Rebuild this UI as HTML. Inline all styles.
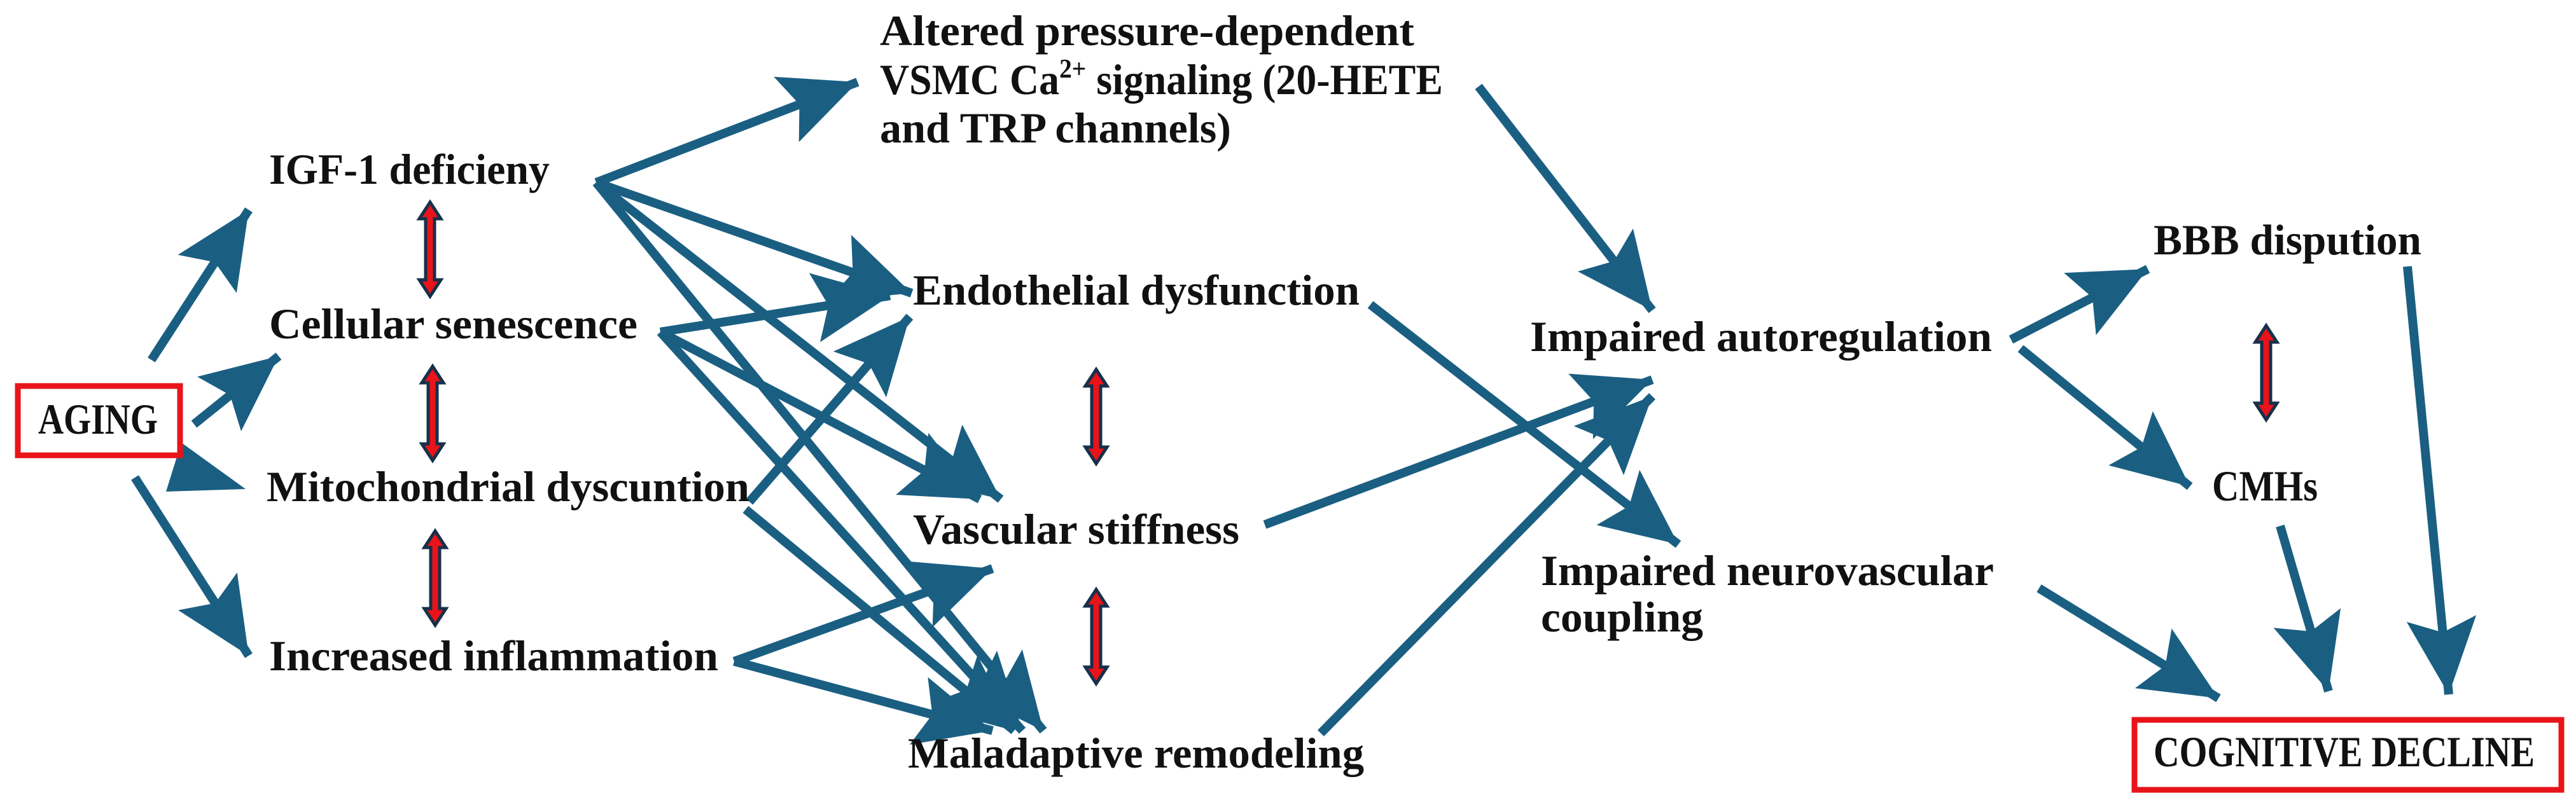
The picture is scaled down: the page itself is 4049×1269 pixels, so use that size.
<!DOCTYPE html>
<html><head><meta charset="utf-8"><style>
html,body{margin:0;padding:0;background:#fff}
svg{display:block}
text{font-family:"Liberation Serif",serif;font-weight:bold;fill:#111;font-size:68px}
</style></head><body>
<svg width="4049" height="1269" viewBox="0 0 4049 1269" xmlns="http://www.w3.org/2000/svg">
<defs>
<marker id="a" markerUnits="userSpaceOnUse" markerWidth="130" markerHeight="120" refX="120" refY="55" orient="auto">
<path d="M0,0 L120,55 L0,110 L22,55 Z" fill="#1a5f82"/>
</marker>
<g id="dbl">
<path d="M0,-74 L17,-48 L7,-48 L7,48 L17,48 L0,74 L-17,48 L-7,48 L-7,-48 L-17,-48 Z" fill="#e8141a" stroke="#17304a" stroke-width="5"/>
</g>
</defs>
<g stroke="#1a5f82" stroke-width="14" fill="none" marker-end="url(#a)">
<line x1="238" y1="566" x2="391" y2="330"/>
<line x1="305" y1="667" x2="438" y2="560"/>
<line x1="212" y1="751" x2="391" y2="1031"/>
<line x1="937" y1="287" x2="1348" y2="129"/>
<line x1="937" y1="287" x2="1433" y2="461"/>
<line x1="937" y1="287" x2="1573" y2="785"/>
<line x1="937" y1="287" x2="1640" y2="1149"/>
<line x1="1038" y1="522" x2="1399" y2="465"/>
<line x1="1038" y1="522" x2="1540" y2="785"/>
<line x1="1038" y1="522" x2="1607" y2="1149"/>
<line x1="1178" y1="789" x2="1430" y2="498"/>
<line x1="1172" y1="801" x2="1594" y2="1149"/>
<line x1="1154" y1="1040" x2="1560" y2="894"/>
<line x1="1154" y1="1040" x2="1560" y2="1149"/>
<line x1="1988" y1="825" x2="2597" y2="597"/>
<line x1="2076" y1="1153" x2="2597" y2="623"/>
<line x1="2324" y1="136" x2="2597" y2="488"/>
<line x1="2154" y1="479" x2="2638" y2="856"/>
<line x1="3161" y1="534" x2="3376" y2="423"/>
<line x1="3176" y1="548" x2="3442" y2="765"/>
<line x1="3205" y1="925" x2="3487" y2="1098"/>
<line x1="3584" y1="827" x2="3660" y2="1087"/>
<line x1="3784" y1="419" x2="3849" y2="1092"/>
</g>
<polygon points="285,696 386,769 261,773" fill="#1a5f82"/>
<use href="#dbl" x="676" y="392"/>
<use href="#dbl" x="680" y="650"/>
<use href="#dbl" x="684" y="909"/>
<use href="#dbl" x="1723" y="655"/>
<use href="#dbl" x="1723" y="1001"/>
<use href="#dbl" x="3562" y="586"/>
<rect x="28" y="607" width="255" height="109" fill="none" stroke="#e8141a" stroke-width="9"/>
<rect x="3355" y="1132" width="671" height="110" fill="none" stroke="#e8141a" stroke-width="9"/>
<text x="60" y="682" textLength="188" lengthAdjust="spacingAndGlyphs">AGING</text>
<text x="423" y="289" textLength="441" lengthAdjust="spacingAndGlyphs">IGF-1 deficieny</text>
<text x="423" y="532" textLength="579" lengthAdjust="spacingAndGlyphs">Cellular senescence</text>
<text x="419" y="788" textLength="759" lengthAdjust="spacingAndGlyphs">Mitochondrial dyscuntion</text>
<text x="423" y="1054" textLength="706" lengthAdjust="spacingAndGlyphs">Increased inflammation</text>
<text x="1383" y="71" textLength="840" lengthAdjust="spacingAndGlyphs">Altered pressure-dependent</text>
<text x="1383" y="148" textLength="885" lengthAdjust="spacingAndGlyphs">VSMC Ca<tspan dy="-26" font-size="42">2+</tspan><tspan dy="26"> signaling (20-HETE</tspan></text>
<text x="1383" y="224" textLength="552" lengthAdjust="spacingAndGlyphs">and TRP channels)</text>
<text x="1435" y="479" textLength="702" lengthAdjust="spacingAndGlyphs">Endothelial dysfunction</text>
<text x="1435" y="855" textLength="513" lengthAdjust="spacingAndGlyphs">Vascular stiffness</text>
<text x="1427" y="1207" textLength="717" lengthAdjust="spacingAndGlyphs">Maladaptive remodeling</text>
<text x="2405" y="552" textLength="726" lengthAdjust="spacingAndGlyphs">Impaired autoregulation</text>
<text x="2422" y="920" textLength="712" lengthAdjust="spacingAndGlyphs">Impaired neurovascular</text>
<text x="2422" y="993" textLength="255" lengthAdjust="spacingAndGlyphs">coupling</text>
<text x="3385" y="400" textLength="421" lengthAdjust="spacingAndGlyphs">BBB dispution</text>
<text x="3477" y="787" textLength="166" lengthAdjust="spacingAndGlyphs">CMHs</text>
<text x="3385" y="1205" textLength="599" lengthAdjust="spacingAndGlyphs">COGNITIVE DECLINE</text>
</svg>
</body></html>
